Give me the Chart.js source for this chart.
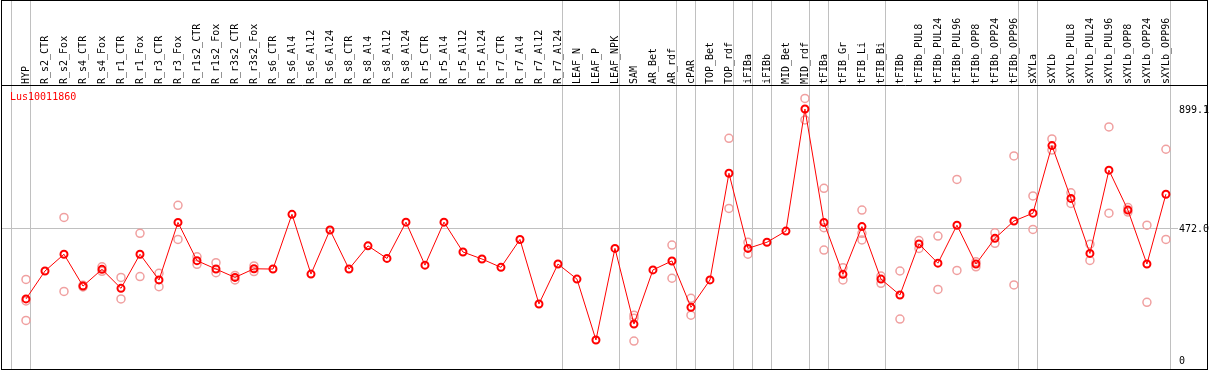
<!DOCTYPE html>
<html>
<head>
<meta charset="utf-8">
<script src="https://cdn.jsdelivr.net/npm/chart.js@4/dist/chart.umd.min.js"></script>
<style>
  html, body { margin: 0; padding: 0; background: #fff; }
  canvas { display: block; }
</style>
</head>
<body>
<canvas id="expr" width="1209" height="370"></canvas>
<script>
// gene shown in the plot
const geneName = 'Lus10011860';

const categories = [
  'HYP',
  'R_s2_CTR', 'R_s2_Fox', 'R_s4_CTR', 'R_s4_Fox', 'R_r1_CTR', 'R_r1_Fox', 'R_r3_CTR', 'R_r3_Fox',
  'R_r1s2_CTR', 'R_r1s2_Fox', 'R_r3s2_CTR', 'R_r3s2_Fox',
  'R_s6_CTR', 'R_s6_Al4', 'R_s6_Al12', 'R_s6_Al24', 'R_s8_CTR', 'R_s8_Al4', 'R_s8_Al12', 'R_s8_Al24',
  'R_r5_CTR', 'R_r5_Al4', 'R_r5_Al12', 'R_r5_Al24', 'R_r7_CTR', 'R_r7_Al4', 'R_r7_Al12', 'R_r7_Al24',
  'LEAF_N', 'LEAF_P', 'LEAF_NPK',
  'SAM', 'AR_Bet', 'AR_rdf', 'cPAR', 'TOP_Bet', 'TOP_rdf', 'iFIBa', 'iFIBb', 'MID_Bet', 'MID_rdf',
  'tFIBa', 'tFIB_Gr', 'tFIB_Li', 'tFIB_Bi',
  'tFIBb', 'tFIBb_PUL8', 'tFIBb_PUL24', 'tFIBb_PUL96', 'tFIBb_OPP8', 'tFIBb_OPP24', 'tFIBb_OPP96',
  'sXYLa',
  'sXYLb', 'sXYLb_PUL8', 'sXYLb_PUL24', 'sXYLb_PUL96', 'sXYLb_OPP8', 'sXYLb_OPP24', 'sXYLb_OPP96'
];

// mean expression per sample
const means = [
  219,
  319, 379, 265, 325, 257, 379, 287, 493,
  356, 326, 296, 327,
  326, 522, 308, 466, 326, 409, 364, 494,
  340, 494, 387, 362, 332, 432, 201, 344,
  290, 72, 400,
  129, 323, 355, 189, 287, 669, 400, 422, 462, 899.1,
  493, 307, 478, 290,
  233, 416, 347, 483, 344, 436, 498,
  526,
  768, 579, 382, 680, 537, 344, 594
];

// single replicates (null = not shown / hidden behind the mean)
const rep1 = [
  289,
  null, 511, 268, 334, 296, 454, 311, 554,
  370, 349, 287, 337,
  null, null, null, null, null, null, null, null,
  null, null, null, null, null, null, null, null,
  null, null, null,
  161, null, 412, 221, null, 794, 422, null, null, 937,
  615, 331, 537, 301,
  319, 428, 444, 647, 352, 456, 731,
  588,
  792, 599, 415, 835, 546, 483, 755
];
const rep2 = [
  142,
  null, 246, 262, 318, 219, 299, 263, 432,
  343, 313, 303, 317,
  null, null, null, null, null, null, null, null,
  null, null, null, null, null, null, null, null,
  null, null, null,
  68, null, 293, 161, null, 543, 379, null, null, 860,
  394, 287, 430, 275,
  147, 400, 253, 321, 334, 418, 269,
  468,
  752, 561, 357, 526, 530, 207, 432
];
const rep3 = [
  212,
  null, null, null, null, null, null, null, null,
  null, null, null, null,
  null, null, null, null, null, null, null, null,
  null, null, null, null, null, null, null, null,
  null, null, null,
  150, null, null, null, null, null, null, null, null, null,
  474, null, 454, null,
  null, null, null, null, null, null, null,
  null,
  null, null, null, null, null, null, null
];

// index of the last sample in each tissue group (-1 = left edge)
const groupEnds = [-1, 0, 28, 31, 34, 35, 37, 38, 39, 41, 42, 45, 52, 53, 60];

const yTickValues = [0, 472.0, 899.1];
const yTickLabels = ['0', '472.0', '899.1'];

const monoFont = { family: 'DejaVu Sans Mono', size: 10 };

const toPoints = (arr) => arr.map((v, i) => ({ x: i, y: v }));

// keep chart.js from adding room for the end labels
const noPad = (s) => {
  s.paddingLeft = 0;
  s.paddingRight = 0;
  s.paddingTop = 0;
  s.paddingBottom = 0;
};

const repStyle = {
  showLine: false,
  pointRadius: 4,
  pointBorderWidth: 1.5,
  pointBorderColor: '#f0a0a0',
  pointBackgroundColor: 'rgba(0,0,0,0)',
  order: 1
};

// gray separators between groups, outer frame, header rule and gene name
const framePlugin = {
  id: 'frame',
  beforeDatasetsDraw(chart) {
    const { ctx, scales: { x } } = chart;
    ctx.save();
    ctx.strokeStyle = '#c0c0c0';
    ctx.lineWidth = 1;
    groupEnds.forEach((i) => {
      const px = Math.floor(x.getPixelForValue(i) + 4.5) + 0.5;
      ctx.beginPath();
      ctx.moveTo(px, 0);
      ctx.lineTo(px, 369);
      ctx.stroke();
    });
    ctx.restore();
  },
  afterDraw(chart) {
    const { ctx } = chart;
    ctx.save();
    ctx.strokeStyle = '#000';
    ctx.lineWidth = 1;
    ctx.strokeRect(1.5, 0.5, 1206, 369);
    ctx.beginPath();
    ctx.moveTo(1, 85.5);
    ctx.lineTo(1207, 85.5);
    ctx.stroke();
    ctx.fillStyle = '#ff0000';
    ctx.font = '10px "DejaVu Sans Mono"';
    ctx.textBaseline = 'middle';
    ctx.fillText(geneName, 10, 97);
    ctx.restore();
  }
};

const chart = new Chart(document.getElementById('expr').getContext('2d'), {
  type: 'line',
  data: {
    datasets: [
      {
        label: geneName,
        data: toPoints(means),
        borderColor: '#ff0000',
        borderWidth: 1,
        tension: 0,
        pointRadius: 3.5,
        pointBorderWidth: 2,
        pointBorderColor: '#ff0000',
        pointBackgroundColor: 'rgba(0,0,0,0)',
        order: 0
      },
      { label: 'rep1', data: toPoints(rep1), ...repStyle },
      { label: 'rep2', data: toPoints(rep2), ...repStyle },
      { label: 'rep3', data: toPoints(rep3), ...repStyle }
    ]
  },
  options: {
    responsive: false,
    animation: false,
    layout: { autoPadding: false, padding: { left: 2, right: 0, top: 0, bottom: 2 } },
    plugins: {
      legend: { display: false },
      tooltip: { enabled: false }
    },
    scales: {
      x: {
        type: 'linear',
        position: 'top',
        min: -1.263,
        max: 60.53,
        afterBuildTicks: (s) => { s.ticks = categories.map((_, i) => ({ value: i })); },
        afterFit: (s) => { s.height = 85; noPad(s); },
        grid: { display: false, drawTicks: false },
        border: { display: false },
        ticks: {
          autoSkip: false,
          minRotation: 90,
          maxRotation: 90,
          padding: 1,
          labelOffset: 12,
          color: '#000',
          font: monoFont,
          callback: (v) => categories[v]
        }
      },
      y: {
        type: 'linear',
        position: 'right',
        min: -28.3,
        max: 985,
        afterBuildTicks: (s) => { s.ticks = yTickValues.map((v) => ({ value: v })); },
        afterFit: (s) => { s.width = 33; noPad(s); },
        grid: {
          color: (c) => (c.tick && c.tick.value === 472.0 ? '#c0c0c0' : 'rgba(0,0,0,0)'),
          lineWidth: 1,
          tickLength: 2
        },
        border: { display: false },
        ticks: {
          padding: 1,
          labelOffset: 1,
          color: '#000',
          font: monoFont,
          callback: (v) => yTickLabels[yTickValues.indexOf(v)]
        }
      }
    }
  },
  plugins: [framePlugin]
});
</script>
</body>
</html>
